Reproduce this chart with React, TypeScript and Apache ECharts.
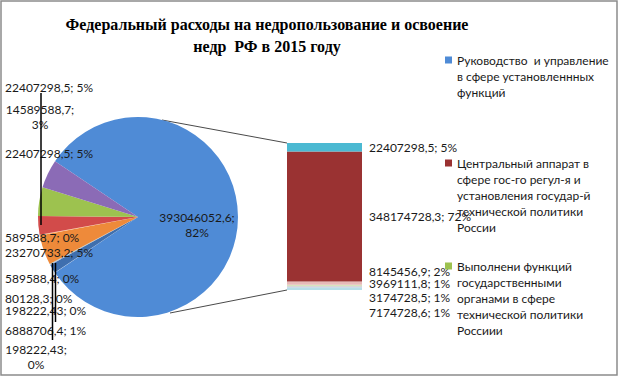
import React, { useEffect, useRef } from "react";
import * as echarts from "echarts";

// ---------- DATA ----------
const titleText = "Федеральный расходы на недропользование и освоение\nнедр  РФ в 2015 году";

const legendLines: string[][] = [
  ["Руководство  и управление", "в сфере установленнных", "функций"],
  ["Центральный аппарат в", "сфере гос-го регул-я и", "установления государ-й", "технической политики", "России"],
  ["Выполнени функций", "государственными", "органами в сфере", "технической политики", "Россиии"],
];
const legendNames = legendLines.map((l) => l.join(" "));

// Pie (clockwise from the combined "other" slice)
const pieNames = [
  legendNames[0],
  "Статья 10",
  "Статья 9",
  "Статья 8",
  "Статья 7",
  "Статья 6",
  "Статья 5",
  "Статья 4",
  "Статья 3",
  legendNames[2],
  "Статья 1",
];
const pieValues = [
  393046052.6, 198222.43, 6888706.4, 198222.43, 80128.3, 589588.4, 23270733.2, 589588.7, 14589588.7,
  22407298.5, 22407298.5,
];
const piePercents = ["82%", "0%", "1%", "0%", "0%", "0%", "5%", "0%", "3%", "5%", "5%"];

// Bar (top to bottom)
const barNames = ["Статья 11", legendNames[1], "Статья 13", "Статья 14", "Статья 15", "Статья 16"];
const barValues = [22407298.5, 348174728.3, 8145456.9, 3969111.8, 3174728.5, 7174728.6];
const barPercents = ["5%", "72%", "2%", "1%", "1%", "1%"];

// ---------- STYLE ----------
const pieColors = [
  "#4f8bd6", "#c6d9f1", "#3f6fae", "#d99694", "#b3a2c7", "#93cddd", "#ee8a3a", "#fac08f",
  "#d24b4a", "#9dc24f", "#8b6bb6",
];
const barColors = ["#4bb9d2", "#9a3232", "#e6b9b8", "#d7e4bd", "#ccc1da", "#b7dee8"];
const FONT = "Lato, 'Open Sans', sans-serif";
const TXT = "#1a1a1a";
const LH = 16;

const fmt = (v: number) => String(v).replace(".", ",");

// label placement for pie labels (layout only)
const pieLabelPos: { x: number; y: number; align: string; wrap?: boolean }[] = [
  { x: 197, y: 225, align: "center", wrap: true },
  { x: 36, y: 357, align: "center", wrap: true },
  { x: 5, y: 330, align: "left" },
  { x: 5, y: 310, align: "left" },
  { x: 5, y: 298, align: "left" },
  { x: 5, y: 278, align: "left" },
  { x: 5, y: 252, align: "left" },
  { x: 5, y: 237, align: "left" },
  { x: 40, y: 117, align: "center", wrap: true },
  { x: 5, y: 153, align: "left" },
  { x: 5, y: 87, align: "left" },
];
const barLabelOffsets = [0, 0, -12, -2, 11, 24];

export default function App() {
  const ref = useRef<HTMLDivElement>(null);
  useEffect(() => {
    if (!ref.current) return;
    const chart = echarts.init(ref.current, undefined, { renderer: "svg" });
    const total = pieValues.reduce((a, b) => a + b, 0);
    const smallSum = total - pieValues[0];
    const startAngle = 180 - ((smallSum / total) * 360) / 2;
    const barTotal = barValues.reduce((a, b) => a + b, 0);

    const legendFirstLine = [60, 163, 266];
    const legends = legendLines.map((lines, i) => {
      const H = lines.length * LH;
      const top0 = (LH - 7) / 2;
      const icon =
        `path://M0,0L7,0L7,0.01L0,0.01Z` +
        `M0,${top0}L7,${top0}L7,${top0 + 7}L0,${top0 + 7}Z` +
        `M0,${H - 0.01}L7,${H - 0.01}L7,${H}L0,${H}Z`;
      return {
        data: [legendNames[i]],
        left: 445,
        top: legendFirstLine[i] - LH / 2,
        padding: 0,
        orient: "vertical",
        icon,
        itemWidth: 7,
        itemHeight: H,
        selectedMode: false,
        formatter: () => lines.join("\n"),
        textStyle: {
          fontFamily: FONT,
          fontSize: 12,
          lineHeight: LH,
          color: TXT,
        },
      };
    });

    const barSeries = barValues
      .map((v, i) => ({
        name: barNames[i],
        type: "bar",
        stack: "other",
        barWidth: "100%",
        data: [v],
        itemStyle: { color: barColors[i] },
        label: {
          show: true,
          position: "right",
          distance: 7,
          offset: [0, barLabelOffsets[i]],
          formatter: () => `${fmt(v)}; ${barPercents[i]}`,
          fontFamily: FONT,
          fontSize: 12,
          color: TXT,
        },
        emphasis: { disabled: true },
      }))
      .reverse();

    chart.setOption({
      animation: false,
      backgroundColor: "#ffffff",
      title: {
        text: titleText,
        left: 262,
        top: 8,
        textAlign: "center",
        textStyle: {
          fontFamily: "'Liberation Serif', 'Times New Roman', serif",
          fontWeight: "bold",
          fontSize: 16,
          lineHeight: 22,
          color: "#000",
        },
      },
      legend: legends,
      grid: { left: 287, top: 143, width: 75, height: 147 },
      xAxis: { type: "category", data: ["Прочие"], show: false },
      yAxis: { type: "value", min: 0, max: barTotal, show: false },
      graphic: [
        {
          type: "rect",
          shape: { x: 1, y: 1, width: 616, height: 374 },
          style: { fill: "none", stroke: "#8c8c8c", lineWidth: 1.5 },
          silent: true,
        },
        { type: "line", shape: { x1: 162, y1: 120, x2: 287, y2: 143 }, style: { stroke: "#4a4a4a", lineWidth: 1 } },
        { type: "line", shape: { x1: 170, y1: 313, x2: 287, y2: 290 }, style: { stroke: "#4a4a4a", lineWidth: 1 } },
        { type: "line", shape: { x1: 41, y1: 93, x2: 41, y2: 225 }, style: { stroke: "#000", lineWidth: 1.5 }, z: 100 },
        { type: "line", shape: { x1: 52.5, y1: 263, x2: 52.5, y2: 340 }, style: { stroke: "#000", lineWidth: 1.5 }, z: 100 },
        { type: "line", shape: { x1: 55.5, y1: 263, x2: 55.5, y2: 322 }, style: { stroke: "#000", lineWidth: 1.5 }, z: 100 },
      ],
      series: [
        {
          type: "pie",
          center: [138, 217],
          radius: [0, 100],
          startAngle,
          clockwise: true,
          avoidLabelOverlap: false,
          data: pieValues.map((v, i) => ({
            name: pieNames[i],
            value: v,
            itemStyle: { color: pieColors[i] },
          })),
          itemStyle: { borderWidth: 0 },
          label: {
            show: true,
            position: "outside",
            fontFamily: FONT,
            fontSize: 12,
            lineHeight: 15,
            color: TXT,
            formatter: (p: any) =>
              `${fmt(pieValues[p.dataIndex])};${pieLabelPos[p.dataIndex].wrap ? "\n" : " "}${piePercents[p.dataIndex]}`,
          },
          labelLine: { show: false },
          labelLayout: (p: any) => {
            const pos = pieLabelPos[p.dataIndex];
            return { x: pos.x, y: pos.y, align: pos.align, verticalAlign: "middle" };
          },
          emphasis: { disabled: true },
          z: 2,
        },
        ...barSeries,
      ],
    } as any);
    return () => chart.dispose();
  }, []);
  return (
    <div
      ref={ref}
      style={{ position: "absolute", left: 0, top: 0, width: 619, height: 378 }}
    />
  );
}
